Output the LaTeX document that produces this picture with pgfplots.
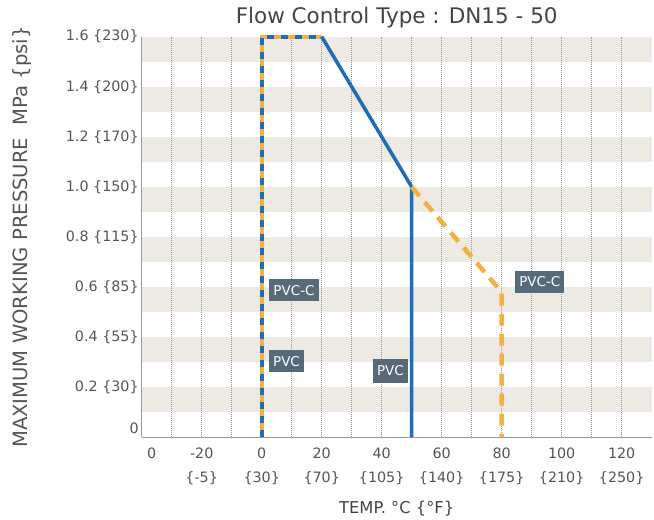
\documentclass[border=0pt]{standalone}
\usepackage{fontspec}
\setmainfont{DejaVu Sans}
\usepackage{pgfplots}
\pgfplotsset{compat=1.18}
\definecolor{stripe}{HTML}{ECEAE2}
\definecolor{pblue}{HTML}{1E6DB6}
\definecolor{porange}{HTML}{F5B041}
\definecolor{boxc}{HTML}{566A7A}
\definecolor{txt}{HTML}{555555}
\definecolor{ttl}{HTML}{444444}
\definecolor{axc}{HTML}{9A9A9A}
\begin{document}
\begin{tikzpicture}
\begin{axis}[
  set layers,
  at={(0,0)}, anchor=south west,
  scale only axis, width=510bp, height=400.6bp,
  xmin=-40, xmax=130, ymin=0, ymax=1.6,
  clip=false,
  axis x line=bottom, axis y line=left,
  axis line style={-, draw=axc, line width=1.3bp},
  major tick length=0pt, minor tick length=0pt,
  tick style={draw=none},
  xtick={-20,0,20,40,60,80,100,120},
  xticklabels={-20\\\{-5\}, 0\\\{30\}, 20\\\{70\}, 40\\\{105\}, 60\\\{140\}, 80\\\{175\}, 100\\\{210\}, 120\\\{250\}},
  minor xtick={-30,-10,10,30,50,70,90,110},
  xmajorgrids, xminorgrids,
  major grid style={draw=axc, line width=0.7bp, dash pattern=on 1bp off 1bp},
  minor grid style={draw=axc, line width=0.7bp, dash pattern=on 1bp off 1bp},
  extra x ticks={-36.67}, extra x tick labels={0},
  extra x tick style={grid=none},
  xticklabel style={align=center, font=\fontsize{14.3bp}{24.5bp}\selectfont, text=txt, yshift=-7bp},
  ytick={0.2,0.4,0.6,0.8,1.0,1.2,1.4,1.6},
  yticklabels={0.2 \{30\}, 0.4 \{55\}, 0.6 \{85\}, 0.8 \{115\}, 1.0 \{150\}, 1.2 \{170\}, 1.4 \{200\}, 1.6 \{230\}},
  extra y ticks={0}, extra y tick labels={0},
  extra y tick style={yticklabel style={yshift=9bp}},
  yticklabel style={font=\fontsize{14.3bp}{17bp}\selectfont, text=txt, xshift=0.5bp},
  title={Flow Control Type : DN15 - 50},
  title style={at={(axis description cs:0.5,1.0324)}, anchor=center, font=\fontsize{21.5bp}{25bp}\selectfont, text=ttl},
  xlabel={TEMP. °C \{°F\}},
  xlabel style={at={(axis description cs:0.5,-0.1772)}, anchor=center, font=\fontsize{16.3bp}{19bp}\selectfont, text=ttl},
  ylabel={MAXIMUM WORKING PRESSURE~ MPa \{psi\}},
  ylabel style={at={(axis description cs:-0.2353,0.5)}, anchor=center, font=\fontsize{19.6bp}{22bp}\selectfont, text=txt},
]
\pgfplotsinvokeforeach{0.1,0.3,0.5,0.7,0.9,1.1,1.3,1.5}{
  \addplot[on layer=axis background, draw=none, fill=stripe, forget plot] coordinates {(-40,#1)(130,#1)(130,#1+0.1)(-40,#1+0.1)} -- cycle;
}
\addplot[porange, line width=4bp, forget plot] coordinates {(0,0)(0,1.6)(20,1.6)};
\addplot[pblue, line width=4bp, dash pattern=on 7bp off 7bp, forget plot] coordinates {(0,0)(0,1.6)(20,1.6)};
\addplot[pblue, line width=3.5bp, line join=round, forget plot] coordinates {(20,1.6)(50,1.0)(50,0)};
\addplot[porange, line width=4.5bp, line join=round, dash pattern=on 12bp off 8bp, forget plot] coordinates {(50,1.0)(80,0.58)(80,0)};
\node[fill=boxc, text=white, font=\fontsize{13.5bp}{16bp}\selectfont, inner xsep=4bp, inner ysep=0pt, minimum height=22bp] at (axis cs:10.77,0.587) {PVC-C};
\node[fill=boxc, text=white, font=\fontsize{13.5bp}{16bp}\selectfont, inner xsep=4bp, inner ysep=0pt, minimum height=22bp] at (axis cs:8.27,0.304) {PVC};
\node[fill=boxc, text=white, font=\fontsize{13.5bp}{16bp}\selectfont, inner xsep=4bp, inner ysep=0pt, minimum height=24bp] at (axis cs:42.9,0.266) {PVC};
\node[fill=boxc, text=white, font=\fontsize{13.5bp}{16bp}\selectfont, inner xsep=4bp, inner ysep=0pt, minimum height=22bp] at (axis cs:92.7,0.622) {PVC-C};
\end{axis}
\pgfresetboundingbox
\path[use as bounding box] (-141.7bp,-82.7bp) rectangle (512.3bp,437.3bp);
\end{tikzpicture}
\end{document}
